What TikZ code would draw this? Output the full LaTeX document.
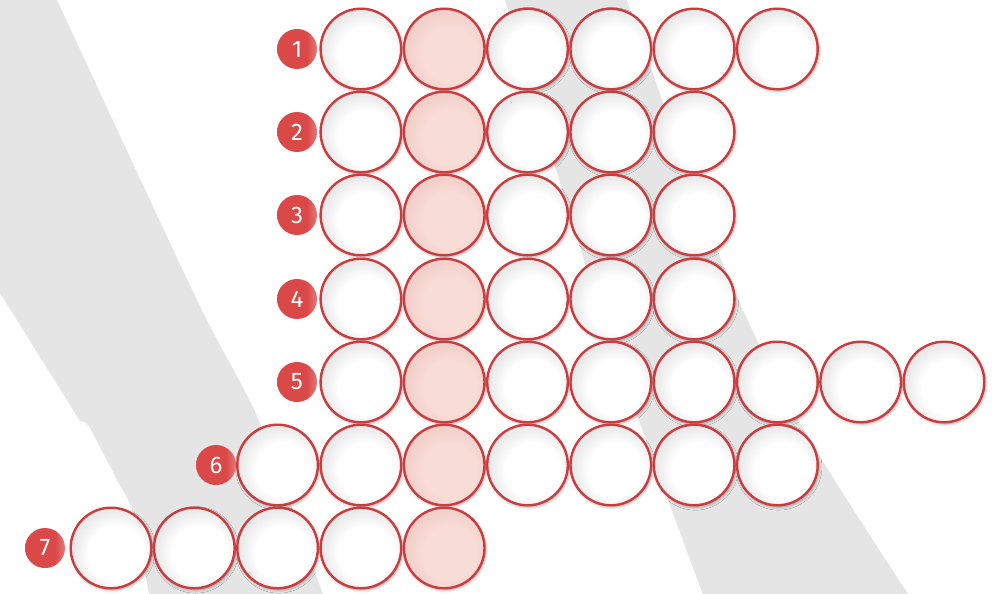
\documentclass[tikz,border=0pt]{standalone}
\usepackage{fontspec}
\setmainfont{Fira Sans}
\usetikzlibrary{shadows.blur}
\definecolor{ringred}{RGB}{204,60,62}
\definecolor{pinkfill}{RGB}{248,220,214}
\definecolor{pinkdark}{RGB}{238,200,193}
\definecolor{badgered}{RGB}{218,72,72}
\definecolor{badgelight}{RGB}{230,120,120}
\definecolor{bandgray}{RGB}{229,229,229}
\definecolor{shadegray}{RGB}{222,222,222}
\pgfdeclareradialshading{bubblewhite}{\pgfpoint{5bp}{-5bp}}{color(0bp)=(white); color(17bp)=(white); color(31bp)=(shadegray); color(50bp)=(shadegray)}
\pgfdeclareradialshading{bubblepink}{\pgfpoint{5bp}{-5bp}}{color(0bp)=(pinkfill); color(17bp)=(pinkfill); color(31bp)=(pinkdark); color(50bp)=(pinkdark)}
\pgfdeclarehorizontalshading{badgeshade}{100bp}{color(0bp)=(badgered); color(62bp)=(badgered); color(75bp)=(badgelight); color(100bp)=(badgelight)}
\tikzset{
  cell/.style={circle, inner sep=0pt, minimum size=80.6pt, line width=2.4pt, draw=ringred,
    blur shadow={shadow xshift=1.2pt, shadow yshift=-1.8pt, shadow blur radius=3pt, shadow opacity=35}},
  whitecell/.style={shade, shading=bubblewhite},
  pinkcell/.style={shade, shading=bubblepink},
  colsel/.code={\ifnum#1=4 \tikzset{pinkcell}\else\tikzset{whitecell}\fi},
  badge/.style={circle, inner sep=0pt, minimum size=40pt, shade, shading=badgeshade,
    text=white, font=\fontsize{24}{24}\selectfont},
}
\begin{document}
\begin{tikzpicture}[x=1pt, y=-1pt]
\useasboundingbox (0,0) rectangle (1005,594);
\begin{scope}
  \clip (0,0) rectangle (1005,594);
  \fill[bandgray] (-40,0) -- plot[smooth] coordinates {(57,0) (197,300) (260,423) (325,600)}
     -- plot[smooth] coordinates {(150,600) (133,513) (117,480) (100,447) (88,425) (80,421)}
     -- (0,293) -- (-40,230) -- cycle;
  \fill[bandgray] plot[smooth] coordinates {(505,0) (583,257) (640,423) (705,600)}
     -- plot[smooth] coordinates {(912,600) (800,423) (720,257) (627,0)} -- cycle;
\end{scope}
\foreach \r/\y/\a/\b/\bx in {1/49/3/8/297, 2/132/3/7/297, 3/215/3/7/297, 4/299/3/7/297, 5/382/3/10/297, 6/465/2/8/216, 7/548/0/4/45}{
  \foreach \k in {\a,...,\b}{
    \node[cell, colsel=\k] (c\r-\k) at ({111+83.3*\k},\y) {};
  }
  \node[badge] (b\r) at (\bx,\y) {\r};
}
\end{tikzpicture}
\end{document}
